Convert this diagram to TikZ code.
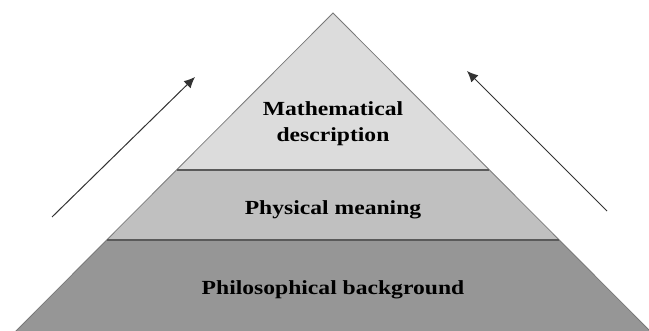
\documentclass[tikz,border=0pt]{standalone}
\usepackage{fontspec}
\setmainfont{Liberation Serif}[FakeStretch=1.18]
\usetikzlibrary{arrows.meta}
\definecolor{tierTop}{RGB}{220,220,220}
\definecolor{tierMid}{RGB}{192,192,192}
\definecolor{tierBot}{RGB}{150,150,150}
\definecolor{edgeGray}{RGB}{120,120,120}
\definecolor{sepGray}{RGB}{90,90,90}
\tikzset{
  tier/.style={draw=edgeGray, line width=0.8pt},
  sepline/.style={draw=sepGray, line width=1.8pt},
  label/.style={font=\bfseries\fontsize{20}{26}\selectfont, align=center, text=black, inner sep=0pt},
  flow/.style={draw=black!80, line width=1pt, -{Latex[length=11pt,width=10pt]}}
}
\begin{document}
\begin{tikzpicture}[x=1pt,y=-1pt]
\useasboundingbox (0,0) rectangle (649,331);
\begin{scope}
\clip (0,0) rectangle (649,331);
\coordinate (apex) at (333,13);
\coordinate (ml) at (177,170);
\coordinate (mr) at (489,170);
\coordinate (bl) at (107,240);
\coordinate (br) at (559,240);
\coordinate (gl) at (14,333);
\coordinate (gr) at (652,333);
\fill[tierBot] (bl) -- (br) -- (gr) -- (gl) -- cycle;
\fill[tierMid] (ml) -- (mr) -- (br) -- (bl) -- cycle;
\fill[tierTop] (apex) -- (mr) -- (ml) -- cycle;
\draw[tier] (gl) -- (apex) -- (gr);
\draw[sepline] (ml) -- (mr);
\draw[sepline] (bl) -- (br);
\end{scope}
\node[label] (math) at (333,124) {Mathematical\\description};
\node[label, anchor=base] (phys) at (333,215) {Physical meaning};
\node[label, anchor=base] (philo) at (333,295) {Philosophical background};
\coordinate (la) at (52,217);
\coordinate (lb) at (195,77);
\coordinate (ra) at (607,211);
\coordinate (rb) at (467,71);
\draw[flow] (la) -- (lb);
\draw[flow] (ra) -- (rb);
\end{tikzpicture}
\end{document}
